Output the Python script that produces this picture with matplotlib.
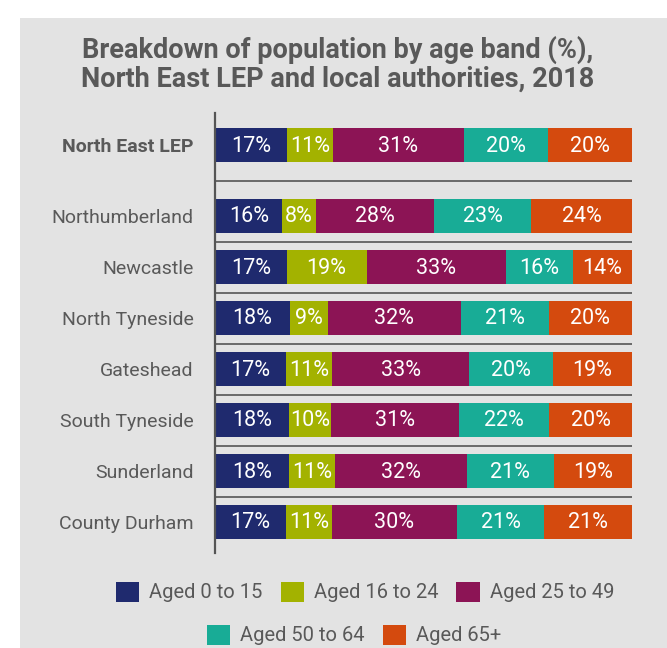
import matplotlib
matplotlib.use("Agg")
import matplotlib.pyplot as plt
from matplotlib.patches import Rectangle

# data
areas = ["North East LEP", "Northumberland", "Newcastle", "North Tyneside",
         "Gateshead", "South Tyneside", "Sunderland", "County Durham"]
bands = ["Aged 0 to 15", "Aged 16 to 24", "Aged 25 to 49", "Aged 50 to 64", "Aged 65+"]
aged_0_15 = [17, 16, 17, 18, 17, 18, 18, 17]
aged_16_24 = [11, 8, 19, 9, 11, 10, 11, 11]
aged_25_49 = [31, 28, 33, 32, 33, 31, 32, 30]
aged_50_64 = [20, 23, 16, 21, 20, 22, 21, 21]
aged_65_plus = [20, 24, 14, 20, 19, 20, 19, 21]
title = "Breakdown of population by age band (%),\nNorth East LEP and local authorities, 2018"

colors = ["#1f2a6e", "#a3b200", "#8c1455", "#18ac96", "#d44a0e"]
bg = "#e3e3e3"
txt = "#595959"
W, H = 667, 648

plt.rcParams['font.family'] = ['Roboto', 'DejaVu Sans']

fig = plt.figure(figsize=(W / 100, H / 100), dpi=100)
fig.patch.set_facecolor("white")
fig.patches.append(Rectangle((20 / W, 0), 1, 1 - 18 / H, transform=fig.transFigure,
                             facecolor=bg, edgecolor="none", zorder=-5))

fig.text(338 / W, 1 - 64 / H, title, ha="center", va="center", fontsize=19.5,
         fontweight="bold", color=txt, linespacing=1.1)

# axes in pixel units so rows sit where they are in the reference
x0, x1, ytop, ybot = 215, 632, 113, 553
ax = fig.add_axes([x0 / W, 1 - ybot / H, (x1 - x0) / W, (ybot - ytop) / H])
ax.set_facecolor("none")
ax.set_xlim(0, 100)
ax.set_ylim(ybot, ytop)

ypos = [145] + [216 + 51 * i for i in range(len(areas) - 1)]
series = [aged_0_15, aged_16_24, aged_25_49, aged_50_64, aged_65_plus]
totals = [sum(v) for v in zip(*series)]

left = [0.0] * len(areas)
for vals, c, lab in zip(series, colors, bands):
    w = [v / t * 100 for v, t in zip(vals, totals)]
    ax.barh(ypos, w, left=left, height=34, color=c, label=lab, zorder=2)
    for y, l, wi, v in zip(ypos, left, w, vals):
        ax.text(l + wi / 2, y + 1, f"{v}%", ha="center", va="center",
                color="white", fontsize=15.5, zorder=3)
    left = [a + b for a, b in zip(left, w)]

# separator lines
seps = [180.5] + [241.5 + 51 * k for k in range(len(areas) - 2)]
for s in seps:
    ax.axhline(s, 0, 1, color="#555555", lw=1.2, zorder=1)

ax.set_yticks(ypos)
ax.set_yticklabels(areas, fontsize=14, color=txt)
ax.get_yticklabels()[0].set_fontweight("bold")
ax.tick_params(axis="y", length=0, pad=15.5)
ax.set_xticks([])
for sp in ["top", "right", "bottom"]:
    ax.spines[sp].set_visible(False)
ax.spines["left"].set_color("#555555")
ax.spines["left"].set_linewidth(1.6)

# legend, two rows
handles, labels = ax.get_legend_handles_labels()
fig.legend(handles[:3], labels[:3], loc="center", bbox_to_anchor=(365 / W, 1 - 592 / H),
           ncol=3, frameon=False, fontsize=14.5, labelcolor=txt, handlelength=1.15,
           handleheight=1.15, handletextpad=0.5, columnspacing=0.9)
fig.legend(handles[3:], labels[3:], loc="center", bbox_to_anchor=(354 / W, 1 - 635 / H),
           ncol=2, frameon=False, fontsize=14.5, labelcolor=txt, handlelength=1.15,
           handleheight=1.15, handletextpad=0.5, columnspacing=0.9)

fig.savefig("out.png", dpi=100, facecolor=fig.get_facecolor())
